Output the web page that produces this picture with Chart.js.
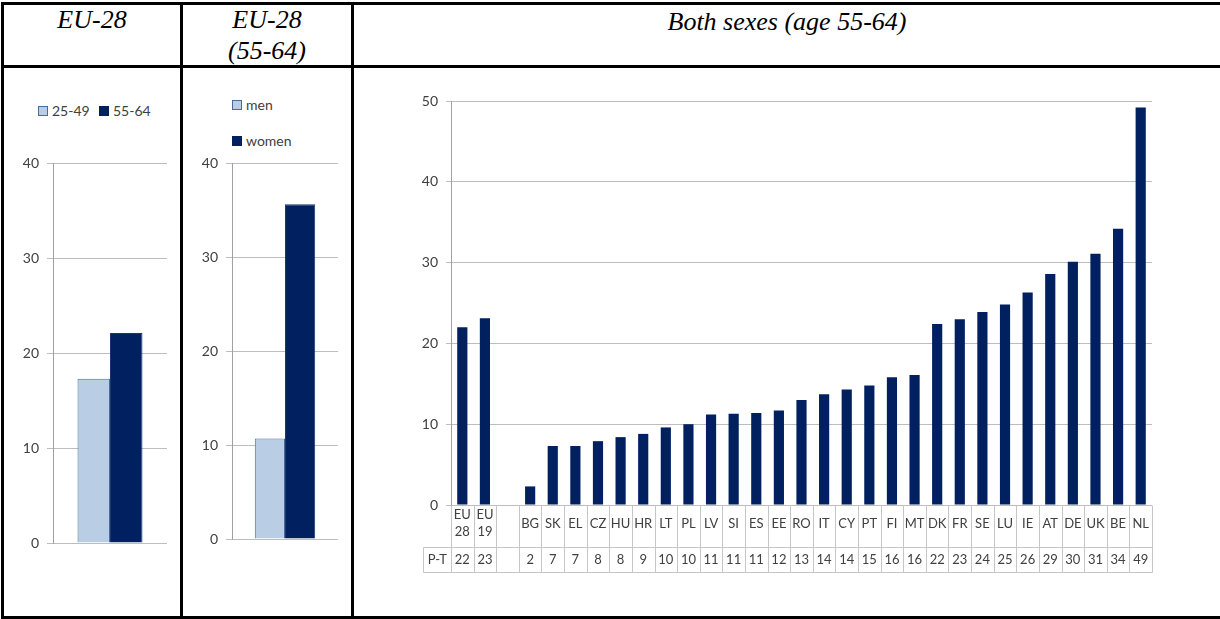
<!DOCTYPE html>
<html>
<head>
<meta charset="utf-8">
<script src="https://cdn.jsdelivr.net/npm/chart.js@4.4.1/dist/chart.umd.min.js"></script>
<style>
  html, body { margin:0; padding:0; background:#fff; width:1220px; height:619px; overflow:hidden; }
  .ln { position:absolute; background:#000; }
  .hdr { position:absolute; font-family:'Liberation Serif','Times New Roman',serif; font-style:italic; font-size:26px; line-height:33px; text-align:center; color:#000; transform:scaleY(0.95); transform-origin:center top; }
  .cv { position:absolute; }
  .leg { position:absolute; font-family:Lato,'Open Sans',sans-serif; font-size:14px; color:#404040; white-space:nowrap; }
  .leg span.b { display:inline-block; width:10px; height:10px; box-sizing:border-box; vertical-align:middle; margin-right:4px; position:relative; top:-1px; }
  .leg .it { position:absolute; line-height:16px; }
</style>
</head>
<body>
<!-- table borders -->
<div class="ln" style="left:1px;top:2px;width:1219px;height:3px"></div>
<div class="ln" style="left:1px;top:65px;width:1219px;height:3px"></div>
<div class="ln" style="left:1px;top:616px;width:1219px;height:3px"></div>
<div class="ln" style="left:1px;top:2px;width:3px;height:617px"></div>
<div class="ln" style="left:180px;top:2px;width:3px;height:617px"></div>
<div class="ln" style="left:351px;top:2px;width:3px;height:617px"></div>

<div class="hdr" style="left:4px;top:4px;width:176px">EU-28</div>
<div class="hdr" style="left:183px;top:4px;width:168px">EU-28<br>(55-64)</div>
<div class="hdr" style="left:354px;top:6px;width:866px">Both sexes (age 55-64)</div>

<div id="leg1" class="leg" style="left:0;top:0"></div>
<div id="leg2" class="leg" style="left:0;top:0"></div>

<canvas id="c1" class="cv" width="176" height="548" style="left:4px;top:68px"></canvas>
<canvas id="c2" class="cv" width="168" height="548" style="left:183px;top:68px"></canvas>
<canvas id="c3" class="cv" width="865" height="548" style="left:354px;top:68px"></canvas>

<script>
// ---------- data ----------
const ageGroups = ['25-49', '55-64'];
const ageValues = [17.3, 22.1];

const sexGroups = ['men', 'women'];
const sexValues = [10.7, 35.6];

const countries = [['EU','28'], ['EU','19'], '', 'BG', 'SK', 'EL', 'CZ', 'HU', 'HR', 'LT', 'PL', 'LV', 'SI', 'ES', 'EE', 'RO', 'IT', 'CY', 'PT', 'FI', 'MT', 'DK', 'FR', 'SE', 'LU', 'IE', 'AT', 'DE', 'UK', 'BE', 'NL'];
const bothSexesValues = [22.0, 23.1, null, 2.3, 7.3, 7.3, 7.9, 8.4, 8.8, 9.6, 10.0, 11.2, 11.3, 11.4, 11.7, 13.0, 13.7, 14.3, 14.8, 15.8, 16.1, 22.4, 23.0, 23.9, 24.8, 26.3, 28.6, 30.1, 31.1, 34.2, 49.2];
const ptLabel = 'P-T';
const ptValues = [22, 23, null, 2, 7, 7, 8, 8, 9, 10, 10, 11, 11, 11, 12, 13, 14, 14, 15, 16, 16, 22, 23, 24, 25, 26, 29, 30, 31, 34, 49];

const smallTicks = [0, 10, 20, 30, 40];
const bigTicks = [0, 10, 20, 30, 40, 50];

// ---------- styles ----------
const LIGHT = '#b9cde5', LIGHT_BORDER = '#4a6b9e', DARK = '#002060';
const GRID = '#bdbdbd', AXIS = '#a0a0a0', TXT = '#404040';
const FONT = 'Lato';

function buildLegend(id, labels, colors, borders, positions) {
  const el = document.getElementById(id);
  labels.forEach((l, i) => {
    const d = document.createElement('div');
    d.className = 'it';
    d.style.left = positions[i][0] + 'px';
    d.style.top = positions[i][1] + 'px';
    d.innerHTML = '<span class="b" style="background:' + colors[i] + ';border:1px solid ' + borders[i] + '"></span>' + l;
    el.appendChild(d);
  });
}
buildLegend('leg1', ageGroups, [LIGHT, DARK], [LIGHT_BORDER, DARK], [[38, 103], [99, 103]]);
buildLegend('leg2', sexGroups, [LIGHT, DARK], [LIGHT_BORDER, DARK], [[232, 97], [232, 133]]);

function smallChart(canvasId, groups, values, bottomPad) {
  return new Chart(document.getElementById(canvasId), {
    type: 'bar',
    data: {
      labels: [''],
      datasets: groups.map((g, i) => ({
        label: g,
        data: [values[i]],
        backgroundColor: i === 0 ? LIGHT : DARK,
        borderColor: i === 0 ? LIGHT_BORDER : '#1a3570',
        borderWidth: 1,
        categoryPercentage: 0.57,
        barPercentage: 1.0
      }))
    },
    options: {
      responsive: false,
      animation: false,
      devicePixelRatio: 1,
      layout: { padding: { top: 95, right: 13, bottom: bottomPad, left: 0 } },
      plugins: { legend: { display: false }, tooltip: { enabled: false } },
      scales: {
        x: { display: false },
        y: {
          min: 0, max: 40,
          afterBuildTicks: (s) => { s.ticks = smallTicks.map(v => ({ value: v })); },
          afterFit: (s) => { s.width = 49; },
          ticks: { padding: 8, color: TXT, font: { family: FONT, size: 14 } },
          grid: { color: GRID, tickLength: 6, lineWidth: 1 },
          border: { color: AXIS }
        }
      }
    }
  });
}
smallChart('c1', ageGroups, ageValues, 73);
smallChart('c2', sexGroups, sexValues, 77);

// table under the country chart
const tablePlugin = {
  id: 'ptTable',
  afterDraw(chart) {
    const ctx = chart.ctx, a = chart.chartArea, xs = chart.scales.x;
    const n = chart.data.labels.length;
    const w = (a.right - a.left) / n;
    const y0 = Math.round(a.bottom) + 0.5, y1 = y0 + 42, y2 = y0 + 67;
    const lx = Math.round(a.left - 28) + 0.5;
    ctx.save();
    ctx.strokeStyle = '#c6c6c6';
    ctx.lineWidth = 1;
    ctx.beginPath();
    for (let i = 0; i <= n; i++) {
      const x = Math.round(a.left + i * w) + 0.5;
      ctx.moveTo(x, y0); ctx.lineTo(x, y2);
    }
    ctx.moveTo(lx, y1); ctx.lineTo(lx, y2);
    ctx.moveTo(lx, y1); ctx.lineTo(Math.round(a.right) + 0.5, y1);
    ctx.moveTo(lx, y2); ctx.lineTo(Math.round(a.right) + 0.5, y2);
    ctx.stroke();
    ctx.fillStyle = TXT;
    ctx.font = '13px ' + FONT;
    ctx.textAlign = 'center';
    ctx.textBaseline = 'middle';
    const ym = (y1 + y2) / 2;
    ctx.fillText(ptLabel, (lx + a.left) / 2, ym);
    ptValues.forEach((v, i) => {
      if (v !== null) ctx.fillText(String(v), xs.getPixelForValue(i), ym);
    });
    ctx.restore();
  }
};

new Chart(document.getElementById('c3'), {
  type: 'bar',
  data: {
    labels: countries,
    datasets: [{
      label: 'Both sexes (age 55-64)',
      data: bothSexesValues,
      backgroundColor: DARK,
      borderWidth: 0,
      categoryPercentage: 1.0,
      barPercentage: 0.45
    }]
  },
  options: {
    responsive: false,
    animation: false,
    devicePixelRatio: 1,
    layout: { padding: { top: 33, right: 67, bottom: 43, left: 0 } },
    plugins: { legend: { display: false }, tooltip: { enabled: false } },
    scales: {
      x: {
        afterFit: (s) => { s.height = 68; },
        grid: { display: false, drawTicks: false },
        border: { display: false },
        ticks: {
          autoSkip: false, maxRotation: 0, minRotation: 0,
          padding: 10, crossAlign: 'center',
          color: TXT, font: { family: FONT, size: 13, lineHeight: 1.3 }
        }
      },
      y: {
        min: 0, max: 50,
        afterBuildTicks: (s) => { s.ticks = bigTicks.map(v => ({ value: v })); },
        afterFit: (s) => { s.width = 97; },
        ticks: { padding: 8, color: TXT, font: { family: FONT, size: 14 } },
        grid: { color: GRID, tickLength: 5 },
        border: { color: AXIS }
      }
    }
  },
  plugins: [tablePlugin]
});
</script>
</body>
</html>
